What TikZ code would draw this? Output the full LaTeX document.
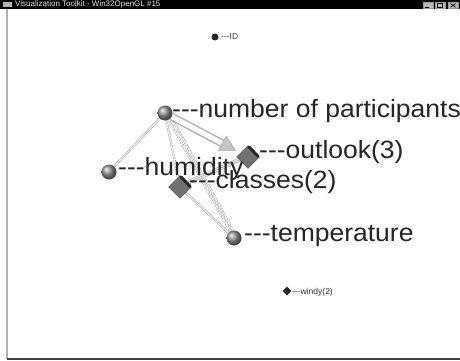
\documentclass[tikz,border=0pt]{standalone}
\usepackage{fontspec}
\usepackage{graphicx}
\setmainfont{Liberation Sans}[Ligatures=TeXOff]
\usetikzlibrary{shapes.geometric,calc}
\newcommand\wlab[1]{\scalebox{1.06}[1]{#1}}
\tikzset{
  sph/.style={circle, minimum size=15pt, inner sep=0pt, shading=ball, ball color=gray!85},
  dia/.style={diamond, minimum size=23pt, inner sep=0pt, fill=gray!75!black!90, draw=gray!60!black, line width=0.3pt},
  diaedge/.style={line width=3pt, black!85, line cap=round},
  lbl/.style={anchor=base west, inner sep=0pt, font=\fontsize{25}{25}\selectfont, text=black!85},
  slbl/.style={anchor=base west, inner sep=0pt, font=\fontsize{8.5}{9}\selectfont, text=black!80},
  edg/.style={draw=gray!65, line width=0.7pt, double=white, double distance=0.9pt},
  dedg/.style={draw=gray!70, line width=0.7pt, double=white, double distance=0.9pt, dash pattern=on 2pt off 1pt},
  tube/.style={line width=8pt, gray!60},
  tubein/.style={line width=5pt, white},
  headstyle/.style={fill=gray!45, draw=gray!70, line width=0.6pt},
  btn/.style={fill=gray!55, draw=gray!80, line width=0.4pt}
}
\begin{document}
\begin{tikzpicture}[x=1pt,y=-1pt]
\useasboundingbox (0,0) rectangle (460,361);
\fill[white] (0,0) rectangle (460,361);
% title bar
\fill[black] (0,0) rectangle (460,9.5);
\fill[gray!60] (3,2) rectangle (12,7.5);
\node[anchor=west, inner sep=0pt, text=white!90!black, font=\fontsize{8}{8}\selectfont] (title) at (15,4.8) {Visualization Toolkit - Win32OpenGL \#15};
\filldraw[btn] (423,2) rectangle (433,8.5);
\filldraw[btn] (435,2) rectangle (445,8.5);
\filldraw[btn] (448,2) rectangle (458,8.5);
\draw[black, line width=0.8pt] (425,7.2) -- (429,7.2);
\draw[black, line width=0.6pt] (437.5,3.5) rectangle (442.5,7.3);
\draw[black, line width=0.7pt] (450.5,3.5) -- (455.5,7.3) (450.5,7.3) -- (455.5,3.5);
% window borders
\draw[gray!60, line width=1.6pt] (7,9.5) -- (7,359);
\draw[gray!50!black, line width=1.8pt] (7,359) -- (460,359);

% node positions
\coordinate (pn) at (165,113);
\coordinate (ph) at (109,172);
\coordinate (pc) at (180,187);
\coordinate (po) at (248,157);
\coordinate (pt) at (234,238);

% edges (drawn first)
\draw[edg] (pn) -- (ph);
\draw[dedg] (pn) -- (pc);
\draw[dedg] (pn) -- (pt);
\draw[dedg] ($(pn)+(4,0)$) -- ($(pt)+(3,0)$);
\draw[edg] (pc) -- (pt);
\draw[edg] (pc) -- (po);
\draw[edg] ($(pc)+(2,-3)$) -- ($(po)+(-2,-1)$);

% arrow tube
\coordinate (tip) at ($(pn)!0.85!(po)$);
\coordinate (hb) at ($(pn)!0.69!(po)$);
\coordinate (hl) at ($(hb)!8pt!90:(tip)$);
\coordinate (hr) at ($(hb)!8pt!-90:(tip)$);
\coordinate (ts) at ($(pn)!0.08!(po)$);
\coordinate (te) at ($(pn)!0.70!(po)$);
\draw[tube] (ts) -- (te);
\draw[tubein] (ts) -- (te);
\filldraw[headstyle] (hl) -- (tip) -- (hr) -- cycle;

% nodes
\node[sph] (n) at (pn) {};
\node[sph] (h) at (ph) {};
\node[sph] (t) at (pt) {};
\node[dia] (c) at (pc) {};
\draw[diaedge] ($(c.north)+(1,1.5)$) -- ($(c.east)+(-1.5,-0.5)$);
\node[dia] (o) at (po) {};
\draw[diaedge] ($(o.north)+(1,1.5)$) -- ($(o.east)+(-1.5,-0.5)$);

\node[circle, fill=black!85, minimum size=7pt, inner sep=0pt] (id) at (215,37) {};
\node[diamond, fill=black!85, minimum size=9pt, inner sep=0pt] (w) at (287,291) {};

% labels
\node[lbl] (ln) at (172,117) {\wlab{---number of participants}};
\node[lbl] (lh) at (118,175) {\wlab{---humidity}};
\node[lbl] (lo) at (259,158) {\wlab{---outlook(3)}};
\node[lbl] (lc) at (189,188) {\wlab{---classes(2)}};
\node[lbl] (lt) at (244,241) {\wlab{---temperature}};
\node[slbl] (lid) at (221,40) {---ID};
\node[slbl] (lw) at (292,294) {---windy(2)};
\end{tikzpicture}
\end{document}
